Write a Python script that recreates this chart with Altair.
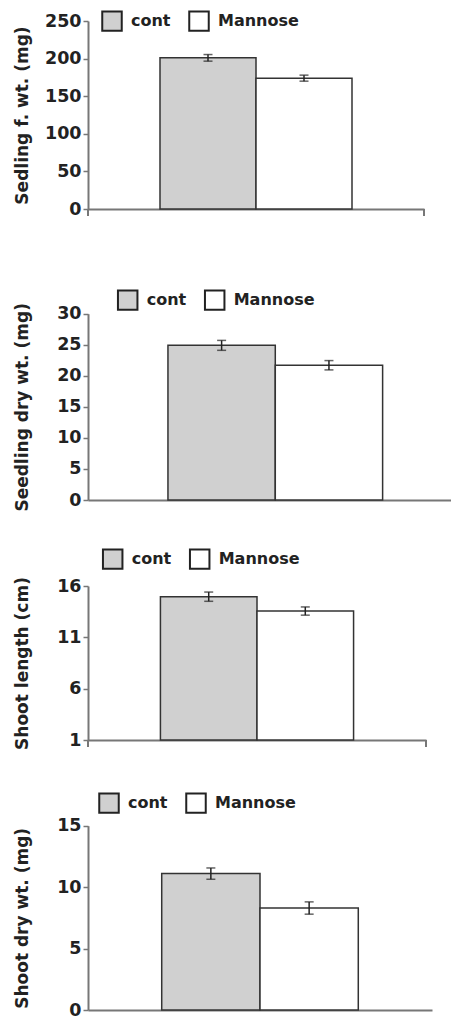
import altair as alt
import pandas as pd

categories = ["cont", "Mannose"]
titles = ["Sedling f. wt. (mg)", "Seedling dry wt. (mg)", "Shoot length (cm)", "Shoot dry wt. (mg)"]

means_fresh = [201, 174]
err_fresh = [4.4, 4.0]
means_dry = [24.9, 21.7]
err_dry = [0.8, 0.75]
means_len = [14.96, 13.56]
err_len = [0.45, 0.4]
means_shoot = [11.1, 8.3]
err_shoot = [0.46, 0.5]

domains = [[0, 250], [0, 30], [1, 16], [0, 15]]
tick_values = [[0, 50, 100, 150, 200, 250], [0, 5, 10, 15, 20, 25, 30], [1, 6, 11, 16], [0, 5, 10, 15]]

# layout (pixels)
widths = [336, 363, 338, 344]
view_heights = [199, 291, 240, 270]
plot_tops = [11, 104.7, 86, 85.7]
pad_outer = [0.75, 0.691, 0.75, 0.75]
band_align = [0.5, 0.539, 0.5, 0.5]
end_tick = [7, 0, 7, 0]
legend_x = [13, 28.7, 13.7, 10]
legend_y = [0, 80, 48, 52]

AX = "#777777"
TXT = "#222222"
FONT = "DejaVu Sans"


def panel(i, means, errs):
    W, H, top = widths[i], view_heights[i], plot_tops[i]
    df = pd.DataFrame({
        "cat": categories,
        "val": means,
        "lo": [m - e for m, e in zip(means, errs)],
        "hi": [m + e for m, e in zip(means, errs)],
        "base": [domains[i][0]] * len(categories),
    })
    yscale = alt.Scale(domain=domains[i], range=[H, top], nice=False, zero=False)
    xenc = alt.X("cat:N", sort=categories,
                 scale=alt.Scale(paddingInner=0, paddingOuter=pad_outer[i], align=band_align[i]),
                 axis=alt.Axis(title=None, labels=False, ticks=False, domain=True,
                               domainColor=AX, domainWidth=2))
    bars = alt.Chart(df).mark_bar(stroke="#333333", strokeWidth=1.5).encode(
        x=xenc,
        y=alt.Y("val:Q", scale=yscale,
                axis=alt.Axis(title=titles[i], values=tick_values[i], tickCount=20, grid=False,
                              domainColor=AX, domainWidth=2, tickColor=AX, tickWidth=1.5,
                              tickSize=5, labelFont=FONT, labelFontSize=17.5,
                              labelFontWeight="bold", labelColor=TXT, labelPadding=2,
                              labelOverlap=False, labelFlush=False,
                              titleFont=FONT, titleFontSize=17, titleFontWeight="bold",
                              titleColor=TXT, titleAngle=270, titleAlign="center",
                              titleBaseline="alphabetic", titleX=-60.4,
                              titleY=(H + top) / 2)),
        y2="base:Q",
        color=alt.Color("cat:N", sort=categories,
                        scale=alt.Scale(domain=categories, range=["#d0d0d0", "#ffffff"]),
                        legend=alt.Legend(orient="none", legendX=legend_x[i], legendY=legend_y[i],
                                          direction="horizontal", title=None,
                                          symbolType="square", symbolSize=380,
                                          symbolStrokeColor=TXT, symbolStrokeWidth=2,
                                          symbolOpacity=1,
                                          labelFont=FONT, labelFontSize=16,
                                          labelFontWeight="bold", labelColor=TXT,
                                          labelOffset=8, columnPadding=14, padding=0)),
    )
    xc = alt.X("cat:N", sort=categories)
    whisk = alt.Chart(df).mark_rule(color=TXT, strokeWidth=1.5).encode(
        x=xc, y=alt.Y("lo:Q"), y2="hi:Q")
    cap_hi = alt.Chart(df).mark_tick(color=TXT, thickness=1.5, size=9).encode(
        x=xc, y=alt.Y("hi:Q"))
    cap_lo = alt.Chart(df).mark_tick(color=TXT, thickness=1.5, size=9).encode(
        x=xc, y=alt.Y("lo:Q"))
    layers = [bars, whisk, cap_hi, cap_lo]
    if end_tick[i] > 0:
        one = pd.DataFrame({"k": [0]})
        for xpos in (0, W):
            layers.append(alt.Chart(one).mark_rule(color=AX, strokeWidth=2).encode(
                x=alt.value(xpos), y=alt.value(H), y2=alt.value(H + end_tick[i])))
    return alt.layer(*layers).properties(width=W, height=H)


chart = alt.vconcat(
    panel(0, means_fresh, err_fresh),
    panel(1, means_dry, err_dry),
    panel(2, means_len, err_len),
    panel(3, means_shoot, err_shoot),
    spacing=0, bounds="flush",
).resolve_scale(
    color="independent", x="independent", y="independent"
).resolve_legend(color="independent").properties(
    padding={"left": 5, "top": 2, "right": 0, "bottom": 0}
).configure(font=FONT).configure_view(stroke=None, strokeWidth=0)

chart.save("out.html", embed_options={"renderer": "svg", "actions": False})
